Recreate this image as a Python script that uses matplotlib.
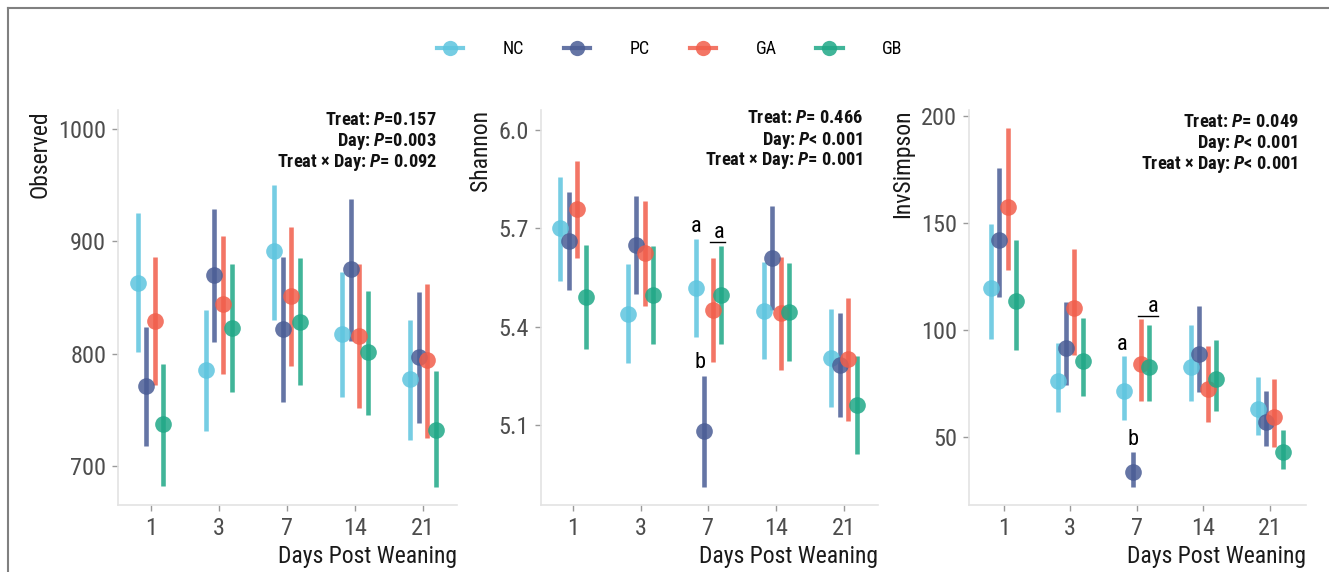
import matplotlib
matplotlib.use("Agg")
import matplotlib.pyplot as plt
from matplotlib.lines import Line2D

plt.rcParams['font.family'] = ['Roboto Condensed', 'Roboto', 'DejaVu Sans']
plt.rcParams['mathtext.fontset'] = 'custom'
plt.rcParams['mathtext.it'] = 'Roboto Condensed:italic:bold'
plt.rcParams['mathtext.rm'] = 'Roboto Condensed:bold'

days = ['1', '3', '7', '14', '21']
groups = ['NC', 'PC', 'GA', 'GB']
colors = ['#5ec5df', '#4a5d95', '#f15e4b', '#20a887']

# rows: NC, PC, GA, GB ; columns: days
obs_mean = [[863, 785, 891, 817, 777],
            [771, 870, 822, 875, 797],
            [829, 844, 851, 816, 794],
            [737, 823, 828, 801, 732]]
obs_lo = [[801, 731, 830, 761, 723],
          [718, 810, 757, 811, 738],
          [772, 782, 789, 751, 725],
          [682, 766, 772, 745, 681]]
obs_hi = [[925, 839, 950, 873, 830],
          [824, 929, 886, 938, 855],
          [886, 905, 913, 880, 862],
          [791, 880, 885, 856, 784]]

sha_mean = [[5.700, 5.440, 5.518, 5.449, 5.305],
            [5.661, 5.649, 5.081, 5.608, 5.282],
            [5.758, 5.624, 5.452, 5.441, 5.302],
            [5.490, 5.497, 5.498, 5.446, 5.162]]
sha_lo = [[5.540, 5.290, 5.367, 5.300, 5.156],
          [5.512, 5.500, 4.910, 5.451, 5.123],
          [5.608, 5.464, 5.292, 5.268, 5.113],
          [5.333, 5.346, 5.347, 5.296, 5.011]]
sha_hi = [[5.858, 5.590, 5.666, 5.598, 5.454],
          [5.812, 5.799, 5.251, 5.768, 5.443],
          [5.906, 5.783, 5.610, 5.614, 5.488],
          [5.649, 5.646, 5.647, 5.595, 5.311]]

inv_mean = [[119.7, 76.3, 71.6, 83.0, 63.4],
            [142.3, 91.7, 34.0, 88.9, 57.0],
            [157.7, 110.4, 84.1, 72.5, 59.3],
            [113.5, 85.5, 83.0, 77.2, 43.3]]
inv_lo = [[95.7, 61.7, 58.1, 67.1, 51.2],
          [115.3, 74.4, 26.6, 71.0, 45.9],
          [128.0, 88.3, 67.1, 57.0, 45.3],
          [90.8, 69.3, 67.1, 62.4, 35.2]]
inv_hi = [[149.6, 93.9, 88.1, 102.6, 78.0],
          [175.6, 113.2, 43.0, 111.1, 71.8],
          [194.6, 138.1, 105.1, 92.6, 77.4],
          [142.1, 105.5, 102.3, 95.4, 53.4]]

obs_stats = ['Treat: $P$=0.157', 'Day: $P$=0.003', 'Treat × Day: $P$= 0.092']
sha_stats = ['Treat: $P$= 0.466', 'Day: $P$< 0.001', 'Treat × Day: $P$= 0.001']
inv_stats = ['Treat: $P$= 0.049', 'Day: $P$< 0.001', 'Treat × Day: $P$< 0.001']

W, H = 1329, 572
fig = plt.figure(figsize=(W / 100, H / 100), dpi=100)

offsets = [-0.1875, -0.0625, 0.0625, 0.1875]


def panel(rect, mean, lo, hi, ylabel, ylim, xlim, yticks, stats, stat_pos):
    ax = fig.add_axes(rect)
    for g in range(4):
        xs = [i + offsets[g] for i in range(len(days))]
        err = [[m - l for m, l in zip(mean[g], lo[g])],
               [h - m for m, h in zip(mean[g], hi[g])]]
        ax.errorbar(xs, mean[g], yerr=err, fmt='o', color=colors[g], ms=12,
                    elinewidth=3.3, capsize=0, alpha=0.85, mec='none')
    ax.set_xlim(*xlim)
    ax.set_ylim(*ylim)
    ax.set_xticks(range(len(days)))
    ax.set_xticklabels(days)
    ax.set_yticks(yticks)
    for s in ['top', 'right']:
        ax.spines[s].set_visible(False)
    for s in ['left', 'bottom']:
        ax.spines[s].set_color('#e3e3e3')
        ax.spines[s].set_linewidth(1.2)
    ax.tick_params(length=4.5, width=1, color='#9a9a9a', labelcolor='#4d4d4d',
                   labelsize=17.5, pad=4)
    ax.set_ylabel(ylabel, loc='top', fontsize=17, color='#1a1a1a', labelpad=5)
    ax.set_xlabel('Days Post Weaning', loc='right', fontsize=17,
                  color='#1a1a1a', labelpad=4)
    xr, ys = stat_pos
    for s, y in zip(stats, ys):
        ax.text(xr, y, s, transform=ax.transAxes, ha='right', va='center',
                fontsize=13.2, fontweight='bold', color='#111111')
    return ax


ax1 = panel([118 / W, 67 / H, 339 / W, 395 / H], obs_mean, obs_lo, obs_hi,
            'Observed', (665, 1017), (-0.48, 4.5), [700, 800, 900, 1000],
            obs_stats, (0.941, [0.975, 0.920, 0.867]))
ax2 = panel([541 / W, 67 / H, 337 / W, 395 / H], sha_mean, sha_lo, sha_hi,
            'Shannon', (4.856, 6.061), (-0.47, 4.5), [5.1, 5.4, 5.7, 6.0],
            sha_stats, (0.955, [0.979, 0.924, 0.871]))
ax2.set_yticklabels(['5.1', '5.4', '5.7', '6.0'])
ax3 = panel([969 / W, 67 / H, 337 / W, 395 / H], inv_mean, inv_lo, inv_hi,
            'InvSimpson', (18.4, 202.8), (-0.52, 4.54), [50, 100, 150, 200],
            inv_stats, (0.977, [0.970, 0.916, 0.861]))

# significance letters at day 7
ax2.text(2 - 0.18, 5.705, 'a', ha='center', va='center', fontsize=16)
ax2.text(2 - 0.12, 5.29, 'b', ha='center', va='center', fontsize=16)
ax2.text(2 + 0.16, 5.686, 'a', ha='center', va='center', fontsize=16)
ax2.plot([2 + 0.015, 2 + 0.25], [5.6586, 5.6586], color='black', lw=1)

ax3.text(2 - 0.215, 93.1, 'a', ha='center', va='center', fontsize=16)
ax3.text(2 - 0.06, 49.0, 'b', ha='center', va='center', fontsize=16)
ax3.text(2 + 0.24, 111.0, 'a', ha='center', va='center', fontsize=16)
ax3.plot([2 + 0.02, 2 + 0.32], [106.8, 106.8], color='black', lw=1)

handles = [Line2D([0], [0], color=c, lw=3, marker='o', ms=11, alpha=0.85,
                  mec='none') for c in colors]
fig.legend(handles, groups, loc='center', bbox_to_anchor=(0.504, 0.914),
           ncol=4, frameon=False, fontsize=13, handlelength=1.45,
           handletextpad=2.2, columnspacing=2.2)

# outer frame lines
fig.add_artist(Line2D([8 / W, 8 / W], [0, 1 - 8 / H], transform=fig.transFigure,
                      color='#808080', lw=1.5))
fig.add_artist(Line2D([8 / W, 1], [1 - 8 / H, 1 - 8 / H], transform=fig.transFigure,
                      color='#808080', lw=1.5))

fig.savefig('out.png', dpi=100)
